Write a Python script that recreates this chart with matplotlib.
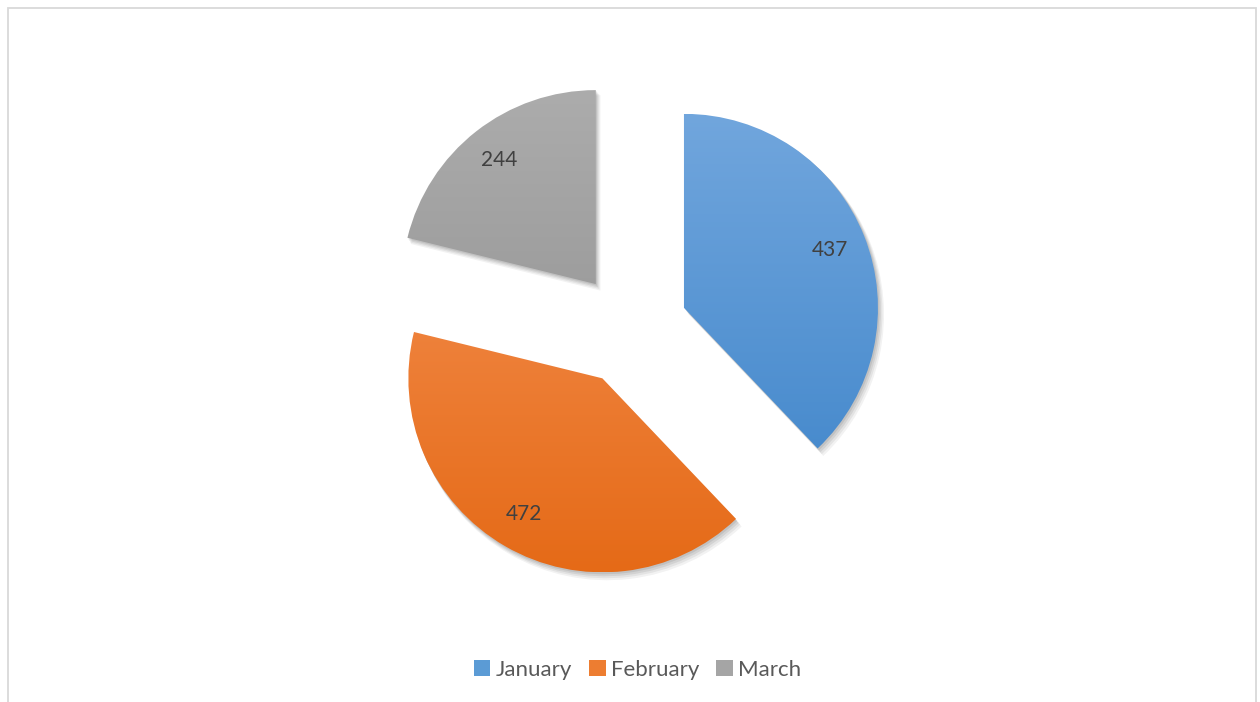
import numpy as np
import matplotlib
matplotlib.use("Agg")
import matplotlib.pyplot as plt
from matplotlib.patches import Wedge, Rectangle, Patch
from matplotlib.colors import LinearSegmentedColormap

plt.rcParams['font.family'] = ['Lato', 'DejaVu Sans']

months = ['January', 'February', 'March']
values = [437, 472, 244]
top_colors = ['#71A6DD', '#F48F50', '#ACACAC']
bottom_colors = ['#4287CB', '#E56A17', '#8F8F8F']
mid_colors = ['#5B9BD5', '#ED7D31', '#A5A5A5']

W, H = 1260, 702
cx, cy, r = 631, 373, 194   # pixel centre / radius of the pie

fig = plt.figure(figsize=(W / 100, H / 100), dpi=100)
ax = fig.add_axes([0, 0, 1, 1])

total = sum(values)
wedges, texts, autotexts = ax.pie(
    values, startangle=90, counterclock=False,
    explode=[0.294] * 3, radius=1,
    autopct=lambda p: f"{p * total / 100:.0f}", pctdistance=0.81,
    textprops=dict(color='#404040', fontsize=15),
    wedgeprops=dict(linewidth=0))

for i, w in enumerate(wedges):
    (x0, y0) = w.center
    # soft shadow
    for k, a in enumerate([0.05, 0.06, 0.07, 0.08]):
        off = (4 - k) * 0.006
        sh = Wedge((x0 + off, y0 - off * 1.4), 1 + off * 0.3, w.theta1, w.theta2,
                   facecolor='black', alpha=a, linewidth=0, zorder=0.5)
        ax.add_patch(sh)
    # vertical gradient fill clipped to the wedge
    cmap = LinearSegmentedColormap.from_list('g', [bottom_colors[i], top_colors[i]])
    grad = np.linspace(0, 1, 256).reshape(-1, 1)
    im = ax.imshow(grad, cmap=cmap, origin='lower', aspect='auto',
                   extent=[x0 - 1, x0 + 1, y0 - 1, y0 + 1], zorder=1)
    im.set_clip_path(w)
    w.set_facecolor('none')
    w.set_zorder(1)

for t in autotexts:
    t.set_zorder(3)

ax.set_xlim(-cx / r, (W - cx) / r)
ax.set_ylim(-cy / r, (H - cy) / r)
ax.set_aspect('equal', adjustable='box')
ax.axis('off')

# legend
handles = [Patch(facecolor=c, edgecolor='none') for c in mid_colors]
fig.legend(handles, months, loc='center', bbox_to_anchor=(0.506, 0.046),
           ncol=3, frameon=False, fontsize=16, handlelength=0.75,
           handleheight=0.75, handletextpad=0.25, columnspacing=0.75,
           labelcolor='#595959')

# chart border
fig.patches.append(Rectangle((8 / W, -0.02), (1256 - 8) / W, 1 - 8 / H + 0.02,
                             transform=fig.transFigure, fill=False,
                             edgecolor='#D9D9D9', linewidth=1.3))

fig.savefig('out.png', dpi=100)
